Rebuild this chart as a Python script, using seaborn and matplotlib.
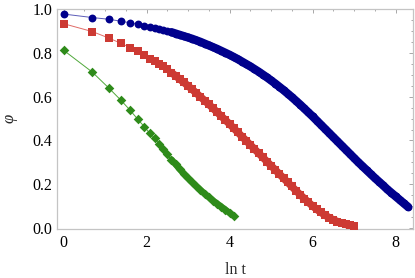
import numpy as np
import pandas as pd
import matplotlib
matplotlib.use("Agg")
import matplotlib.pyplot as plt
import seaborn as sns

# ---- data ----
# sparse part: t = 1..10  -> x = ln t
t_sparse = [1, 2, 3, 4, 5, 6, 7, 8, 9, 10]
blue_sparse = [0.977, 0.961, 0.953, 0.944, 0.937, 0.930, 0.923, 0.918, 0.913, 0.908]
red_sparse = [0.933, 0.897, 0.867, 0.843, 0.824, 0.807, 0.791, 0.774, 0.761, 0.749]
green_sparse = [0.812, 0.712, 0.638, 0.583, 0.537, 0.496, 0.463, 0.432, 0.411, 0.386]

# dense part: values read along the bands at ln t = 2.4, 2.5, ...
blue_lnt = [2.4, 2.5, 2.6, 2.7, 2.8, 2.9, 3.0, 3.1, 3.2, 3.3, 3.4, 3.5, 3.6, 3.7, 3.8, 3.9,
            4.0, 4.1, 4.2, 4.3, 4.4, 4.5, 4.6, 4.7, 4.8, 4.9, 5.0, 5.1, 5.2, 5.3, 5.4, 5.5,
            5.6, 5.7, 5.8, 5.9, 6.0, 6.1, 6.2, 6.3, 6.4, 6.5, 6.6, 6.7, 6.8, 6.9, 7.0, 7.1,
            7.2, 7.3, 7.4, 7.5, 7.6, 7.7, 7.8, 7.9, 8.0, 8.1, 8.2, 8.3]
blue_phi = [0.904, 0.899, 0.894, 0.888, 0.882, 0.876, 0.870, 0.864, 0.857, 0.850, 0.842, 0.834,
            0.826, 0.818, 0.809, 0.800, 0.791, 0.781, 0.771, 0.760, 0.749, 0.738, 0.726, 0.714,
            0.701, 0.688, 0.674, 0.660, 0.645, 0.630, 0.614, 0.598, 0.581, 0.564, 0.546, 0.528,
            0.510, 0.491, 0.472, 0.453, 0.434, 0.415, 0.396, 0.377, 0.358, 0.339, 0.320, 0.301,
            0.283, 0.265, 0.247, 0.229, 0.212, 0.195, 0.177, 0.161, 0.145, 0.129, 0.113, 0.097]

red_lnt = [2.4, 2.5, 2.6, 2.7, 2.8, 2.9, 3.0, 3.1, 3.2, 3.3, 3.4, 3.5, 3.6, 3.7, 3.8, 3.9,
           4.0, 4.1, 4.2, 4.3, 4.4, 4.5, 4.6, 4.7, 4.8, 4.9, 5.0, 5.1, 5.2, 5.3, 5.4, 5.5,
           5.6, 5.7, 5.8, 5.9, 6.0, 6.1, 6.2, 6.3, 6.4, 6.5, 6.6, 6.7, 6.8, 6.9, 7.0]
red_phi = [0.738, 0.724, 0.710, 0.695, 0.680, 0.665, 0.649, 0.633, 0.616, 0.599, 0.582, 0.565,
           0.547, 0.529, 0.511, 0.493, 0.475, 0.456, 0.437, 0.418, 0.399, 0.380, 0.361, 0.342,
           0.323, 0.304, 0.285, 0.266, 0.247, 0.228, 0.209, 0.190, 0.171, 0.153, 0.135, 0.118,
           0.101, 0.086, 0.072, 0.059, 0.048, 0.038, 0.030, 0.023, 0.017, 0.012, 0.008]

green_lnt = [2.4, 2.5, 2.6, 2.7, 2.8, 2.9, 3.0, 3.1, 3.2, 3.3, 3.4, 3.5, 3.6, 3.7, 3.8, 3.9,
             4.0, 4.1]
green_phi = [0.362, 0.337, 0.313, 0.291, 0.269, 0.248, 0.228, 0.209, 0.191, 0.174, 0.157,
             0.141, 0.126, 0.112, 0.098, 0.084, 0.070, 0.056]

x_ticks = [0, 2, 4, 6, 8]
y_ticks = [0.0, 0.2, 0.4, 0.6, 0.8, 1.0]
y_tick_labels = ["0.0", "0.2", "0.4", "0.6", "0.8", "1.0"]

# ---- build tables ----
frames = []
for name, sp, lnt, phi in [("blue", blue_sparse, blue_lnt, blue_phi),
                           ("red", red_sparse, red_lnt, red_phi),
                           ("green", green_sparse, green_lnt, green_phi)]:
    xs = list(np.log(t_sparse)) + lnt
    ys = sp + phi
    frames.append(pd.DataFrame({"lnt": xs, "phi": ys, "series": name}))
df = pd.concat(frames, ignore_index=True)
# region where the reference's markers merge into a continuous band
dense = df[df.lnt >= 2.55]

sns.set_style("white")
plt.rcParams["font.family"] = ["Liberation Serif", "DejaVu Serif"]

fig = plt.figure(figsize=(4.15, 2.78), dpi=100)
ax = fig.add_axes([57 / 415, 1 - 229 / 278, 356 / 415, 220 / 278])

line_pal = {"blue": "#5c5cb8", "red": "#e06a66", "green": "#4fa83a"}
mark_pal = {"blue": "#00008c", "red": "#cd3a33", "green": "#2e8b1a"}
markers = {"blue": "o", "red": "s", "green": "D"}
band_w = {"blue": 6.0, "red": 5.4, "green": 4.6}
mark_s = {"blue": 32, "red": 26, "green": 24}

sns.lineplot(data=df, x="lnt", y="phi", hue="series", palette=line_pal,
             linewidth=0.7, legend=False, ax=ax, sort=False, estimator=None)
for name in ["green", "red", "blue"]:
    sub = dense[dense.series == name]
    sns.lineplot(data=sub, x="lnt", y="phi", color=mark_pal[name], linewidth=band_w[name],
                 legend=False, ax=ax, sort=False, estimator=None,
                 solid_capstyle="round", solid_joinstyle="round", zorder=3)
    sub = df[df.series == name]
    sns.scatterplot(data=sub, x="lnt", y="phi", color=mark_pal[name],
                    marker=markers[name], s=mark_s[name], linewidth=0, legend=False,
                    ax=ax, zorder=4)

ax.set_xlim(-0.157, 8.42)
ax.set_ylim(-0.004, 1.0)
ax.set_xticks(x_ticks)
ax.set_xticklabels([str(v) for v in x_ticks])
ax.set_yticks(y_ticks)
ax.set_yticklabels(y_tick_labels)
ax.set_xticks(np.arange(0, 8.5, 0.5), minor=True)
ax.set_yticks(np.arange(0, 1.001, 0.05), minor=True)

frame_col = "#c4c4c4"
for sp in ax.spines.values():
    sp.set_color(frame_col)
    sp.set_linewidth(0.9)
ax.tick_params(which="both", direction="in", color="#9a9a9a", width=0.6,
               top=True, right=True, labelsize=11.5, labelcolor="black")
ax.tick_params(which="major", length=3.2)
ax.tick_params(which="minor", length=1.6)
ax.tick_params(axis="x", which="major", pad=4)
ax.tick_params(axis="y", which="major", pad=3.5)

ax.set_xlabel("ln t", fontsize=11.5, va="center")
ax.xaxis.set_label_coords(0.5, (229 - 270) / 220)
ax.set_ylabel("φ", fontsize=12, style="italic", rotation=90, va="center", ha="center")
ax.yaxis.set_label_coords((10 - 57) / 356, 0.505)

fig.savefig("out.png", dpi=100)
